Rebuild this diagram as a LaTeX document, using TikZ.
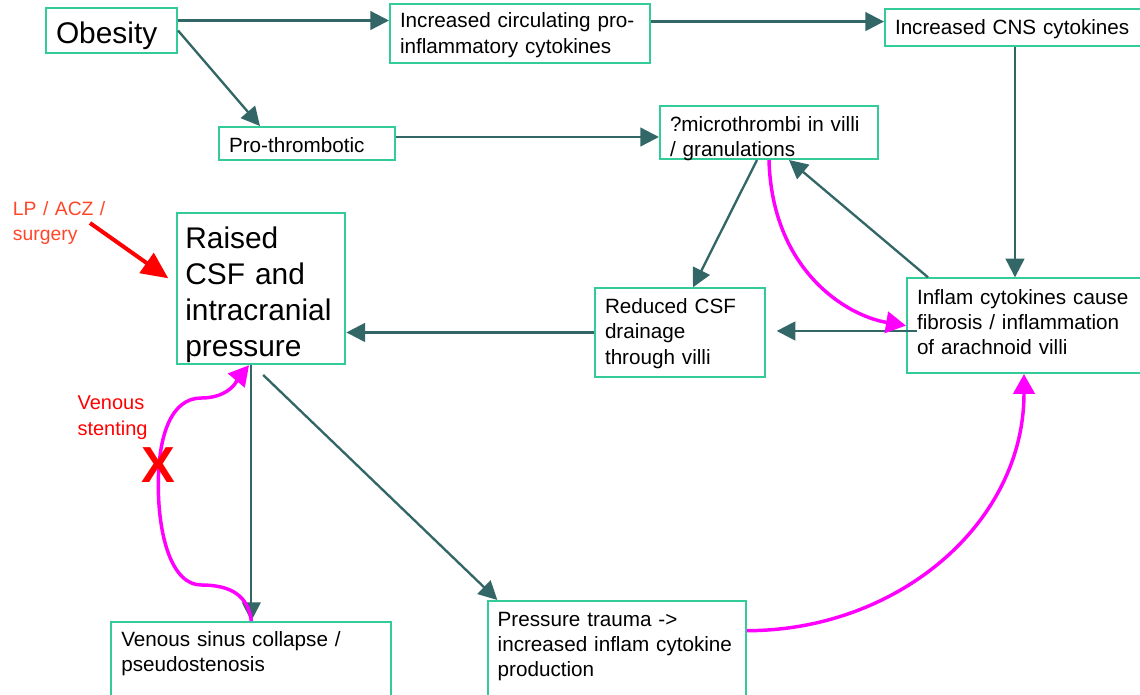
\documentclass[tikz,border=0pt]{standalone}
\usepackage{fontspec}
\setmainfont{Liberation Sans}
\usetikzlibrary{arrows.meta}
\definecolor{iihgreen}{RGB}{51,204,153}
\definecolor{iihteal}{RGB}{51,102,102}
\definecolor{iihpink}{RGB}{255,0,255}
\definecolor{iihred}{RGB}{255,0,0}
\definecolor{iihorange}{RGB}{255,70,40}
\newcommand{\iihfont}{\linespread{1}\fontsize{15.5}{19}\selectfont}
\newcommand{\iihbigfont}{\linespread{1}\fontsize{22.4}{27}\selectfont}
\newcommand{\iihnotefont}{\linespread{1}\fontsize{14.5}{18.75}\selectfont}
\newcommand{\iihcrossfont}{\fontsize{38}{40}\selectfont\bfseries}
\tikzset{
    iih/chart/.style={x=0.75pt, y=-0.75pt, font=\iihfont},
    iih/box/.style={rectangle, draw=iihgreen, fill=white, line width=1.5pt, anchor=north west, align=left, inner xsep=7.5pt, inner ysep=0pt, text height=18.75pt},
    iih/bigbox/.style={iih/box, font=\iihbigfont, text height=26.5pt},
    iih/note/.style={anchor=base west, inner sep=0pt, align=left, text width=80pt, font=\iihnotefont},
    iih/arrow/.style={->, >={Triangle[length=14pt,width=14pt]}, line width=1.75pt, draw=iihteal},
    iih/pinkarrow/.style={->, >={Triangle[length=15pt,width=16pt]}, draw=iihpink, line width=2.6pt},
    iih/redarrow/.style={->, >={Triangle[length=20pt,width=18pt]}, line width=3pt, draw=iihred}
}
\begin{document}
\begin{tikzpicture}[iih/chart]
    \useasboundingbox (0,0) rectangle (1140,694);
    \node[iih/bigbox, text width=83.25pt, text height=26.25pt, text depth=7.5pt] (obesity) at (45,7) {Obesity};
    \node[iih/box, text width=180pt, text height=17.8pt, text depth=26.5pt] (circ) at (389,3) {Increased circulating pro-\\inflammatory cytokines};
    \node[iih/box, text width=180pt, text depth=8.8pt] (cns) at (884,8) {Increased CNS cytokines};
    \node[iih/box, text width=117pt, text height=19.3pt, text depth=5.7pt] (prothromb) at (218,126) {Pro-thrombotic};
    \node[iih/box, text width=148.5pt, text depth=21pt] (microthr) at (659,105) {?microthrombi in villi\\/ granulations};
    \node[iih/bigbox, inner xsep=6.5pt, text width=113.5pt, text depth=86.7pt] (raised) at (175.7,212.3) {Raised\\CSF and\\intracranial\\pressure};
    \node[iih/box, text width=112.5pt, text height=19pt, text depth=47.25pt] (reduced) at (594,287.3) {Reduced CSF\\drainage\\through villi};
    \node[iih/box, text width=160.5pt, text height=19.5pt, text depth=51.5pt] (inflam) at (906,277.3) {Inflam cytokines cause\\fibrosis / inflammation\\of arachnoid villi};
    \node[iih/box, text width=195pt, text height=18pt, text depth=49pt] (venous) at (110.3,621) {Venous sinus collapse /\\pseudostenosis};
    \node[iih/box, text width=178.7pt, text depth=64pt] (trauma) at (486.7,600) {Pressure trauma ->\\increased inflam cytokine\\production};
    \node[iih/note, text=iihorange] (lpacz) at (12.7,215) {LP / ACZ /\\surgery};
    \node[iih/note, text=iihred, font=\fontsize{15}{19.3}\selectfont] (stenting) at (77.3,409.3) {Venous\\stenting};
    \coordinate (lptail) at (90,223);
    \coordinate (lphead) at (168.3,278.3);
    \draw[iih/arrow] ([yshift=7.5pt]obesity.east) -- ([yshift=7.5pt]obesity.east -| circ.west);
    \draw[iih/arrow] ([yshift=9pt]circ.east) -- ([yshift=9pt]circ.east -| cns.west);
    \draw[iih/arrow] (obesity.east) -- ([xshift=31.5pt]prothromb.north west);
    \draw[iih/arrow] ([yshift=5pt]prothromb.east) -- ([yshift=5pt]prothromb.east -| microthr.west);
    \draw[iih/arrow] (cns.south) -- (cns.south |- inflam.north);
    \draw[iih/arrow] ([xshift=-9pt]microthr.south) -- ([xshift=9.75pt]reduced.north);
    \draw[iih/arrow] ([xshift=16.5pt]inflam.north west) -- ([xshift=15pt]microthr.south);
    \draw[iih/arrow] ([xshift=8pt,yshift=-4pt]inflam.west) -- ([xshift=8pt,yshift=-4pt]inflam.west -| reduced.east);
    \draw[iih/arrow] (reduced.west) -- (reduced.west -| raised.east);
    \draw[iih/arrow] (venous.north |- raised.south) -- (venous.north);
    \draw[iih/arrow, shorten <=10.5pt] ([xshift=-6pt]raised.south) -- ([xshift=8pt]trauma.north west);
    \draw[iih/pinkarrow] (microthr.south) .. controls +(3,110) and +(-60,-10) .. (inflam.west);
    \draw[iih/pinkarrow] ([yshift=-23pt]trauma.north east) .. controls +(150,0) and +(0,150) .. (inflam.south);
    \draw[iih/pinkarrow] (venous.north) .. controls +(-3,-25) and +(30,0) .. ++(-50,-36)
        .. controls +(-30,0) and +(0,50) .. ++(-43,-100)
        .. controls +(0,-50) and +(-30,0) .. ++(43,-87)
        .. controls +(30,0) and +(-10,12) .. ([xshift=-9pt]raised.south);
    \draw[iih/redarrow] (lptail) -- (lphead);
    \node[text=iihred, font=\iihcrossfont, inner sep=0pt] (cross) at (158,465) {X};
\end{tikzpicture}
\end{document}
